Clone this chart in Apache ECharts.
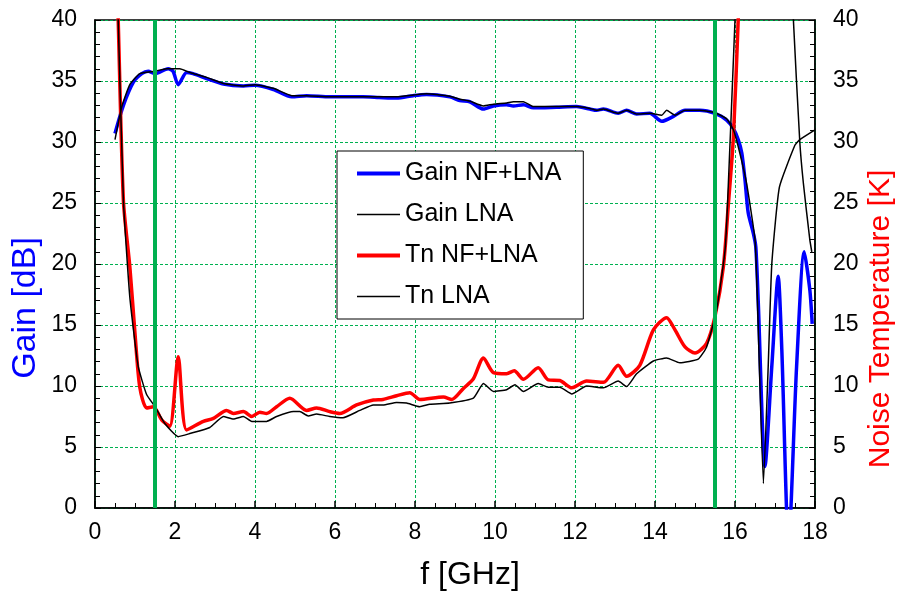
<!DOCTYPE html>
<html>
<head>
<meta charset="utf-8">
<script src="https://cdn.jsdelivr.net/npm/echarts@6/dist/echarts.min.js"></script>
<style>
html,body{margin:0;padding:0;background:#fff;}
#chart{width:899px;height:594px;}
</style>
</head>
<body>
<div id="chart"></div>
<script>
// ---- data ----
var gainNfFreq = [0.5, 0.71, 0.96, 1.17, 1.33, 1.5, 1.83, 1.95, 2.08, 2.29, 2.45, 2.79, 3.21, 3.71, 4.0, 4.46, 4.92, 5.29, 5.87, 6.2, 6.7, 7.1, 7.54, 7.96, 8.29, 8.87, 9.12, 9.37, 9.71, 9.96, 10.29, 10.46, 10.71, 10.96, 11.54, 12.04, 12.37, 12.54, 12.71, 13.08, 13.29, 13.54, 13.87, 14.17, 14.46, 14.75, 15.12, 15.5, 15.79, 15.96, 16.08, 16.17, 16.25, 16.33, 16.46, 16.52, 16.58, 16.75, 16.92, 17.08, 17.17, 17.34, 17.54, 17.73, 17.87, 17.93];
var gainNf     = [30.7, 33.0, 34.9, 35.6, 35.8, 35.6, 36.0, 35.8, 34.7, 35.7, 35.6, 35.2, 34.75, 34.6, 34.65, 34.3, 33.7, 33.8, 33.7, 33.7, 33.7, 33.65, 33.6, 33.8, 33.9, 33.7, 33.4, 33.3, 32.7, 32.95, 33.05, 32.95, 33.05, 32.8, 32.85, 32.9, 32.7, 32.6, 32.7, 32.35, 32.6, 32.3, 32.35, 31.7, 32.1, 32.6, 32.6, 32.35, 31.8, 31.1, 30.2, 29.1, 26.9, 24.2, 22.5, 21.4, 17.0, 3.4, 11.6, 19.0, 13.0, -3.0, 11.6, 21.0, 17.9, 15.1];

var gainLnaFreq = [0.5, 0.67, 0.87, 1.12, 1.5, 1.79, 2.12, 2.37, 2.79, 3.21, 3.71, 4.0, 4.46, 4.92, 5.29, 5.87, 6.7, 7.54, 7.96, 8.29, 8.87, 9.12, 9.37, 9.71, 9.96, 10.29, 10.46, 10.71, 10.96, 11.54, 12.04, 12.37, 12.54, 12.71, 13.08, 13.29, 13.54, 13.87, 14.17, 14.29, 14.5, 14.75, 15.12, 15.5, 15.79, 15.96, 16.12, 16.29, 16.5, 16.56, 16.71, 16.83, 16.92, 17.11, 17.5, 17.62, 18.0];
var gainLna     = [30.2, 32.9, 34.7, 35.6, 35.8, 36.0, 36.0, 35.7, 35.3, 34.8, 34.6, 34.7, 34.4, 33.8, 33.8, 33.7, 33.7, 33.7, 33.85, 33.95, 33.75, 33.5, 33.35, 32.95, 33.1, 33.2, 33.3, 33.3, 32.9, 32.9, 32.9, 32.75, 32.6, 32.7, 32.35, 32.6, 32.3, 32.35, 32.2, 32.6, 32.2, 32.6, 32.6, 32.4, 31.9, 31.0, 29.1, 26.6, 22.0, 17.0, 2.0, 11.6, 20.0, 26.3, 29.75, 30.2, 31.0];

var tnNfFreq = [0.5, 0.58, 0.71, 0.87, 1.0, 1.12, 1.29, 1.46, 1.67, 1.87, 2.08, 2.29, 2.71, 2.96, 3.29, 3.46, 3.71, 3.92, 4.12, 4.29, 4.54, 4.87, 5.29, 5.54, 5.87, 6.12, 6.54, 6.96, 7.2, 7.54, 7.87, 8.12, 8.71, 8.92, 9.21, 9.46, 9.71, 9.96, 10.29, 10.48, 10.71, 11.08, 11.33, 11.62, 11.92, 12.29, 12.71, 13.08, 13.29, 13.62, 13.96, 14.29, 14.5, 14.75, 15.0, 15.29, 15.5, 15.71, 15.83, 15.96, 16.08, 16.2];
var tnNf     = [49, 40, 25.2, 19.8, 14.3, 9.9, 8.2, 8.3, 7.2, 6.7, 12.4, 6.4, 7.1, 7.35, 8.0, 7.75, 7.9, 7.5, 7.85, 7.75, 8.3, 9.0, 8.0, 8.2, 7.9, 7.75, 8.45, 8.85, 8.9, 9.2, 9.45, 8.9, 9.1, 8.9, 9.8, 10.6, 12.3, 11.1, 11.0, 11.25, 10.55, 11.5, 10.5, 10.45, 9.85, 10.4, 10.3, 11.7, 10.8, 11.7, 14.6, 15.6, 14.6, 13.2, 12.7, 13.5, 15.7, 19.8, 24.7, 30.4, 40, 50];

var tnLnaFreq = [0.5, 0.58, 0.71, 0.87, 1.08, 1.29, 1.5, 1.75, 2.08, 2.37, 2.87, 3.21, 3.46, 3.71, 3.92, 4.29, 4.54, 4.96, 5.12, 5.33, 5.54, 5.87, 6.2, 6.62, 6.96, 7.2, 7.54, 7.79, 8.12, 8.37, 8.87, 9.46, 9.71, 9.96, 10.29, 10.5, 10.71, 11.08, 11.33, 11.62, 11.92, 12.29, 12.71, 13.08, 13.29, 13.54, 13.96, 14.29, 14.62, 15.08, 15.29, 15.54, 15.75, 15.81, 16.0, 16.1, 17.35, 17.46, 17.62, 17.71, 17.87, 17.92];
var tnLna     = [49, 40, 25.2, 17.3, 11.6, 9.3, 8.3, 6.9, 5.85, 6.1, 6.6, 7.5, 7.3, 7.5, 7.1, 7.1, 7.5, 7.9, 7.9, 7.55, 7.7, 7.5, 7.4, 8.0, 8.45, 8.45, 8.65, 8.6, 8.3, 8.5, 8.6, 9.0, 10.2, 9.55, 9.7, 10.1, 9.55, 10.2, 9.9, 9.9, 9.35, 10.0, 9.85, 10.4, 9.95, 11.0, 12.05, 12.3, 11.9, 12.2, 13.2, 16.2, 21.1, 24.7, 40, 50, 50, 40, 30.0, 26.6, 22.0, 21.0];

var bandEdges = [1.5, 15.5];
var xTicks = [0, 2, 4, 6, 8, 10, 12, 14, 16, 18];
var yTicks = [0, 5, 10, 15, 20, 25, 30, 35, 40];

function zip(xs, ys){ return xs.map(function(x,i){ return [x, ys[i]]; }); }

var FONT = "'Liberation Sans', Arial, sans-serif";
var gridGreen = '#00b050';

var chart = echarts.init(document.getElementById('chart'), null, {renderer:'canvas'});

function yAxisCfg(pos, withSplit){
  return {
    type:'value', position:pos, min:yTicks[0], max:yTicks[yTicks.length-1], interval:5,
    axisLine:{show:true, lineStyle:{color:'#000', width:1.5}},
    axisTick:{show:true, inside:true, length:6, lineStyle:{color:'#000', width:1}},
    minorTick:{show:true, splitNumber:5, length:5, lineStyle:{color:'#000', width:1}},
    axisLabel:{color:'#000', fontSize:23, fontFamily:FONT, margin:18},
    splitLine:{show:withSplit, lineStyle:{color:gridGreen, type:[3,2], width:1}},
    minorSplitLine:{show:false}
  };
}

var option = {
  animation:false,
  backgroundColor:'#fff',
  grid:{left:95, right:84, top:20, bottom:86, show:true, borderColor:'#000', borderWidth:1.5, backgroundColor:'transparent'},
  xAxis:{
    type:'value', min:xTicks[0], max:xTicks[xTicks.length-1], interval:2,
    axisLine:{show:true, onZero:false, lineStyle:{color:'#000', width:1.5}},
    axisTick:{show:true, inside:true, length:7, lineStyle:{color:'#000', width:1.5}},
    minorTick:{show:true, splitNumber:4, length:5, lineStyle:{color:'#000', width:1}},
    axisLabel:{color:'#000', fontSize:23, fontFamily:FONT, margin:13},
    splitLine:{show:true, lineStyle:{color:gridGreen, type:[3,2], width:1}}
  },
  yAxis:[ yAxisCfg('left', true), yAxisCfg('right', false) ],
  legend:{
    orient:'vertical', left:337, top:151,
    data:[
      {name:'Gain NF+LNA', lineStyle:{width:4}},
      {name:'Gain LNA', lineStyle:{width:1.5}},
      {name:'Tn NF+LNA', lineStyle:{width:4}},
      {name:'Tn LNA', lineStyle:{width:1.5}}
    ],
    itemWidth:43, itemHeight:14, itemGap:16,
    padding:[10, 22, 10, 18],
    borderColor:'#000', borderWidth:1, backgroundColor:'#fff', borderRadius:0,
    itemStyle:{opacity:0},
    textStyle:{fontSize:25, fontFamily:FONT, color:'#000'}
  },
  graphic:[
    {type:'text', x:26, y:308, rotation:Math.PI/2,
     style:{text:'Gain [dB]', fill:'#0000ff', font:'34px '+FONT, align:'center', verticalAlign:'middle'}},
    {type:'text', x:881, y:319, rotation:Math.PI/2,
     style:{text:'Noise Temperature [K]', fill:'#ff0000', font:'30px '+FONT, align:'center', verticalAlign:'middle'}},
    {type:'text', x:470, y:575,
     style:{text:'f [GHz]', fill:'#000', font:'32px '+FONT, align:'center', verticalAlign:'middle'}}
  ],
  series:[
    {
      name:'Gain NF+LNA', type:'line', yAxisIndex:0, data:zip(gainNfFreq, gainNf),
      showSymbol:false, symbol:'none', smooth:0.25, clip:true,
      lineStyle:{color:'#0000ff', width:3.5}, itemStyle:{color:'#0000ff'}, z:2,
      markLine:{
        silent:true, symbol:'none', label:{show:false},
        lineStyle:{color:'#00b050', width:4, type:'solid'},
        data: bandEdges.map(function(v){ return {xAxis:v}; })
      }
    },
    {
      name:'Tn NF+LNA', type:'line', yAxisIndex:1, data:zip(tnNfFreq, tnNf),
      showSymbol:false, symbol:'none', smooth:0.25, clip:true,
      lineStyle:{color:'#ff0000', width:3.5}, itemStyle:{color:'#ff0000'}, z:3
    },
    {
      name:'Gain LNA', type:'line', yAxisIndex:0, data:zip(gainLnaFreq, gainLna),
      showSymbol:false, symbol:'none', smooth:0.15, clip:true,
      lineStyle:{color:'#000', width:1.5}, itemStyle:{color:'#000'}, z:4
    },
    {
      name:'Tn LNA', type:'line', yAxisIndex:1, data:zip(tnLnaFreq, tnLna),
      showSymbol:false, symbol:'none', smooth:0.15, clip:true,
      lineStyle:{color:'#000', width:1.5}, itemStyle:{color:'#000'}, z:4
    }
  ]
};
chart.setOption(option);
</script>
</body>
</html>
